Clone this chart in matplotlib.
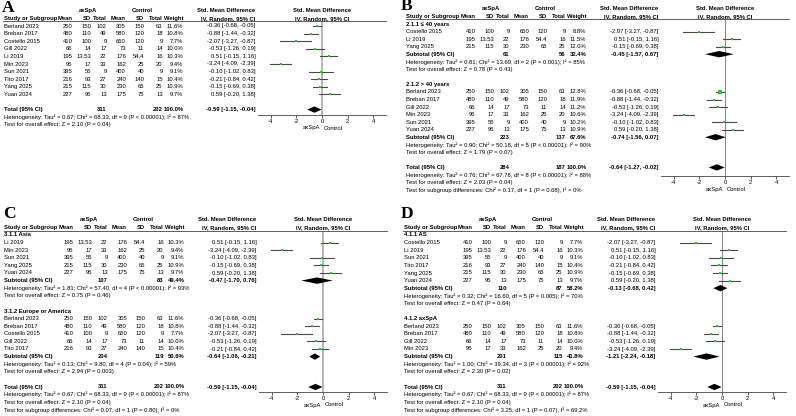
import matplotlib
matplotlib.use("Agg")
import matplotlib.pyplot as plt
from matplotlib.patches import Polygon
from matplotlib.transforms import blended_transform_factory

plt.rcParams['font.family'] = ['Liberation Sans', 'DejaVu Sans']
plt.rcParams['axes.unicode_minus'] = False

# study level data
studies = ["Berland 2023", "Breban 2017", "Costello 2015", "Gill 2022", "Li 2019",
           "Min 2023", "Sun 2021", "Tito 2017", "Yang 2025", "Yuan 2024"]
ax_mean = [250, 480, 410, 66, 195, 95, 395, 216, 215, 227]
ax_sd = [150, 110, 100, 14, 13.53, 17, 55, 93, 115, 95]
ax_n = [102, 49, 9, 17, 22, 33, 9, 27, 30, 13]
ct_mean = [305, 580, 650, 73, 176, 162, 400, 240, 230, 175]
ct_sd = [150, 120, 120, 11, 54.4, 25, 40, 140, 65, 75]
ct_n = [63, 18, 9, 14, 16, 20, 9, 15, 25, 13]
smd = [-0.36, -0.88, -2.07, -0.53, 0.51, -3.24, -0.10, -0.21, -0.15, 0.59]
smd_lo = [-0.68, -1.44, -3.27, -1.26, -0.15, -4.09, -1.02, -0.84, -0.69, -0.20]
smd_hi = [-0.05, -0.32, -0.87, 0.19, 1.16, -2.39, 0.83, 0.42, 0.38, 1.38]

# pooled: axSpA total, control total, weight, SMD, lower, upper
pool_all = [311, 202, 100.0, -0.59, -1.15, -0.04]
het_all = "Heterogeneity: Tau² = 0.67; Chi² = 68.33, df = 9 (P < 0.00001); I² = 87%"
z_all = "Test for overall effect: Z = 2.10 (P = 0.04)"

# A: all studies
a_weights = [11.6, 10.8, 7.7, 10.0, 10.3, 9.4, 9.1, 10.4, 10.9, 9.7]

# B: age
b_groups = ["2.1.1 ≤ 40 years", "2.1.2 > 40 years"]
b_members = [["Costello 2015", "Li 2019", "Yang 2025"],
             ["Berland 2023", "Breban 2017", "Gill 2022", "Min 2023", "Sun 2021", "Yuan 2024"]]
b_weights = [[8.8, 11.5, 12.0], [12.8, 11.9, 11.2, 10.6, 10.2, 10.9]]
b_pool = [[61, 56, 32.4, -0.45, -1.57, 0.67], [223, 137, 67.6, -0.74, -1.56, 0.07]]
b_het = ["Heterogeneity: Tau² = 0.81; Chi² = 13.69, df = 2 (P = 0.001); I² = 85%",
         "Heterogeneity: Tau² = 0.90; Chi² = 50.18, df = 5 (P < 0.00001); I² = 90%"]
b_z = ["Test for overall effect: Z = 0.78 (P = 0.43)",
       "Test for overall effect: Z = 1.79 (P = 0.07)"]
b_total = [284, 187, 100.0, -0.64, -1.27, -0.02]
b_total_het = "Heterogeneity: Tau² = 0.76; Chi² = 67.78, df = 8 (P < 0.00001); I² = 88%"
b_total_z = "Test for overall effect: Z = 2.03 (P = 0.04)"
b_sub = "Test for subgroup differences: Chi² = 0.17, df = 1 (P = 0.68), I² = 0%"

# C: region
c_groups = ["3.1.1 Asia", "3.1.2 Europe or America"]
c_members = [["Li 2019", "Min 2023", "Sun 2021", "Yang 2025", "Yuan 2024"],
             ["Berland 2023", "Breban 2017", "Costello 2015", "Gill 2022", "Tito 2017"]]
c_weights = [[10.3, 9.4, 9.1, 10.9, 9.7], [11.6, 10.8, 7.7, 10.0, 10.4]]
c_pool = [[107, 83, 49.4, -0.47, -1.70, 0.76], [204, 119, 50.6, -0.64, -1.06, -0.21]]
c_het = ["Heterogeneity: Tau² = 1.81; Chi² = 57.40, df = 4 (P < 0.00001); I² = 93%",
         "Heterogeneity: Tau² = 0.13; Chi² = 9.80, df = 4 (P = 0.04); I² = 59%"]
c_z = ["Test for overall effect: Z = 0.75 (P = 0.46)",
       "Test for overall effect: Z = 2.94 (P = 0.003)"]
c_sub = "Test for subgroup differences: Chi² = 0.07, df = 1 (P = 0.80), I² = 0%"

# D: disease type
d_groups = ["4.1.1 AS", "4.1.2 axSpA"]
d_members = [["Costello 2015", "Li 2019", "Sun 2021", "Tito 2017", "Yang 2025", "Yuan 2024"],
             ["Berland 2023", "Breban 2017", "Gill 2022", "Min 2023"]]
d_weights = [[7.7, 10.3, 9.1, 10.4, 10.9, 9.7], [11.6, 10.8, 10.0, 9.4]]
d_pool = [[110, 87, 58.2, -0.13, -0.68, 0.42], [201, 115, 41.8, -1.21, -2.24, -0.18]]
d_het = ["Heterogeneity: Tau² = 0.32; Chi² = 16.60, df = 5 (P = 0.005); I² = 70%",
         "Heterogeneity: Tau² = 1.00; Chi² = 39.34, df = 3 (P < 0.00001); I² = 92%"]
d_z = ["Test for overall effect: Z = 0.47 (P = 0.64)",
       "Test for overall effect: Z = 2.30 (P = 0.02)"]
d_sub = "Test for subgroup differences: Chi² = 3.25, df = 1 (P = 0.07), I² = 69.2%"

W, H = 796, 416
FS = 4.2
fig = plt.figure(figsize=(W / 100, H / 100), dpi=100)

# column right edges (px from panel left)
cols = [72.7, 91, 106.7, 126, 144, 162.7, 183.3]
ci_right = 255.7


def fmt(v):
    return f"{v:g}"


def grouped_rows(groups, members, weights, pools, hets, zs, total, t_het, t_z, sub):
    rows = []
    for g, mem, ws, p, h, z in zip(groups, members, weights, pools, hets, zs):
        rows.append(("group", g))
        for name, w in zip(mem, ws):
            rows.append(("study", studies.index(name), w))
        rows.append(("pool", "Subtotal (95% CI)", p))
        rows.append(("text", h))
        rows.append(("text", z))
        rows.append(("blank",))
    rows.append(("pool", "Total (95% CI)", total))
    rows += [("text", t_het), ("text", t_z), ("text", sub)]
    return rows


def draw_panel(letter, px0, rows, y0, dy, line_px, axis_px, zcol, zlw, letter_xy):
    top = (line_px - y0) / dy
    bot = (axis_px - y0) / dy
    ax = fig.add_axes([(px0 + 258) / W, 1 - axis_px / H, 128 / W, (axis_px - line_px) / H])
    ax.set_xlim(-5, 5)
    ax.set_ylim(bot, top)
    for s in ['left', 'right', 'top']:
        ax.spines[s].set_visible(False)
    ax.spines['bottom'].set_color('#444444')
    ax.spines['bottom'].set_linewidth(0.6)
    ax.set_yticks([])
    ax.set_xticks([-4, -2, 0, 2, 4])
    ax.tick_params(axis='x', length=2.2, width=0.6, color='#444444', labelsize=FS, pad=1.0)
    ax.axvline(0, color=zcol, lw=zlw, zorder=1)
    tr = blended_transform_factory(fig.transFigure, ax.transData)

    def put(x, r, s, ha='right', bold=False):
        ax.text((px0 + x) / W, r, s, transform=tr, ha=ha, va='center', fontsize=FS,
                fontweight='bold' if bold else 'normal', clip_on=False)

    # headers
    put(88, -2, "axSpA", ha='center', bold=True)
    put(142, -2, "Control", ha='center', bold=True)
    put(226, -2, "Std. Mean Difference", ha='center', bold=True)
    put(322, -2, "Std. Mean Difference", ha='center', bold=True)
    put(3.5, -1, "Study or Subgroup", ha='left', bold=True)
    for x, s in zip(cols, ["Mean", "SD", "Total", "Mean", "SD", "Total", "Weight"]):
        put(x, -1, s, bold=True)
    put(228, -1, "IV, Random, 95% CI", ha='center', bold=True)
    put(322, -1, "IV, Random, 95% CI", ha='center', bold=True)
    ax.plot([(px0 + 3) / W, (px0 + 386) / W], [top, top], transform=tr, color='#444444',
            lw=0.6, clip_on=False)

    for r, row in enumerate(rows):
        kind = row[0]
        if kind == "group":
            put(3.5, r, row[1], ha='left', bold=True)
        elif kind == "text":
            put(3.5, r, row[1], ha='left')
        elif kind == "study":
            i, w = row[1], row[2]
            put(3.5, r, studies[i], ha='left')
            vals = [ax_mean[i], ax_sd[i], ax_n[i], ct_mean[i], ct_sd[i], ct_n[i]]
            for x, v in zip(cols, vals):
                put(x, r, fmt(v))
            put(cols[6], r, f"{w:.1f}%")
            put(ci_right, r, f"{smd[i]:.2f} [{smd_lo[i]:.2f}, {smd_hi[i]:.2f}]")
            ax.plot([smd_lo[i], smd_hi[i]], [r, r], color='#4a4a4a', lw=0.8, zorder=2)
            ax.plot(smd[i], r, 's', color='#22cc22', ms=0.62 * w ** 0.5, mew=0, zorder=3)
        elif kind == "pool":
            p = row[2]
            put(3.5, r, row[1], ha='left', bold=True)
            put(cols[2], r, fmt(p[0]), bold=True)
            put(cols[5], r, fmt(p[1]), bold=True)
            put(cols[6], r, f"{p[2]:.1f}%", bold=True)
            put(ci_right, r, f"{p[3]:.2f} [{p[4]:.2f}, {p[5]:.2f}]", bold=True)
            h = 0.42
            ax.add_patch(Polygon([(p[4], r), (p[3], r - h), (p[5], r), (p[3], r + h)],
                                 closed=True, color='black', lw=0, zorder=3))

    ax.annotate("axSpA", xy=(-0.15, 0), xycoords=('data', 'axes fraction'),
                xytext=(0, -13), textcoords='offset pixels', ha='right', va='center', fontsize=FS)
    ax.annotate("Control", xy=(0.15, 0), xycoords=('data', 'axes fraction'),
                xytext=(0, -13), textcoords='offset pixels', ha='left', va='center', fontsize=FS)
    fig.text(letter_xy[0] / W, 1 - letter_xy[1] / H, letter, family='Liberation Serif',
             fontweight='bold', fontsize=12.5, va='baseline', ha='left')


# Panel A
rows_a = [("study", i, w) for i, w in enumerate(a_weights)]
rows_a += [("blank",), ("pool", "Total (95% CI)", pool_all), ("text", het_all), ("text", z_all)]
draw_panel("A", 0, rows_a, 26, 7.6, 21, 115, '#b5b5b5', 1.4, (2, 11.5))

rows_b = grouped_rows(b_groups, b_members, b_weights, b_pool, b_het, b_z,
                      b_total, b_total_het, b_total_z, b_sub)
draw_panel("B", 403, rows_b, 24, 7.55, 18.5, 176, '#8a8a8a', 0.8, (400.5, 10.5))

rows_c = grouped_rows(c_groups, c_members, c_weights, c_pool, c_het, c_z,
                      pool_all, het_all, z_all, c_sub)
draw_panel("C", 1, rows_c, 235, 7.6, 231, 392, '#b5b5b5', 1.4, (3, 218))

rows_d = grouped_rows(d_groups, d_members, d_weights, d_pool, d_het, d_z,
                      pool_all, het_all, z_all, d_sub)
draw_panel("D", 400, rows_d, 235, 7.6, 231, 392, '#8a8a8a', 0.8, (401, 218))

fig.savefig("out.png", dpi=100)
